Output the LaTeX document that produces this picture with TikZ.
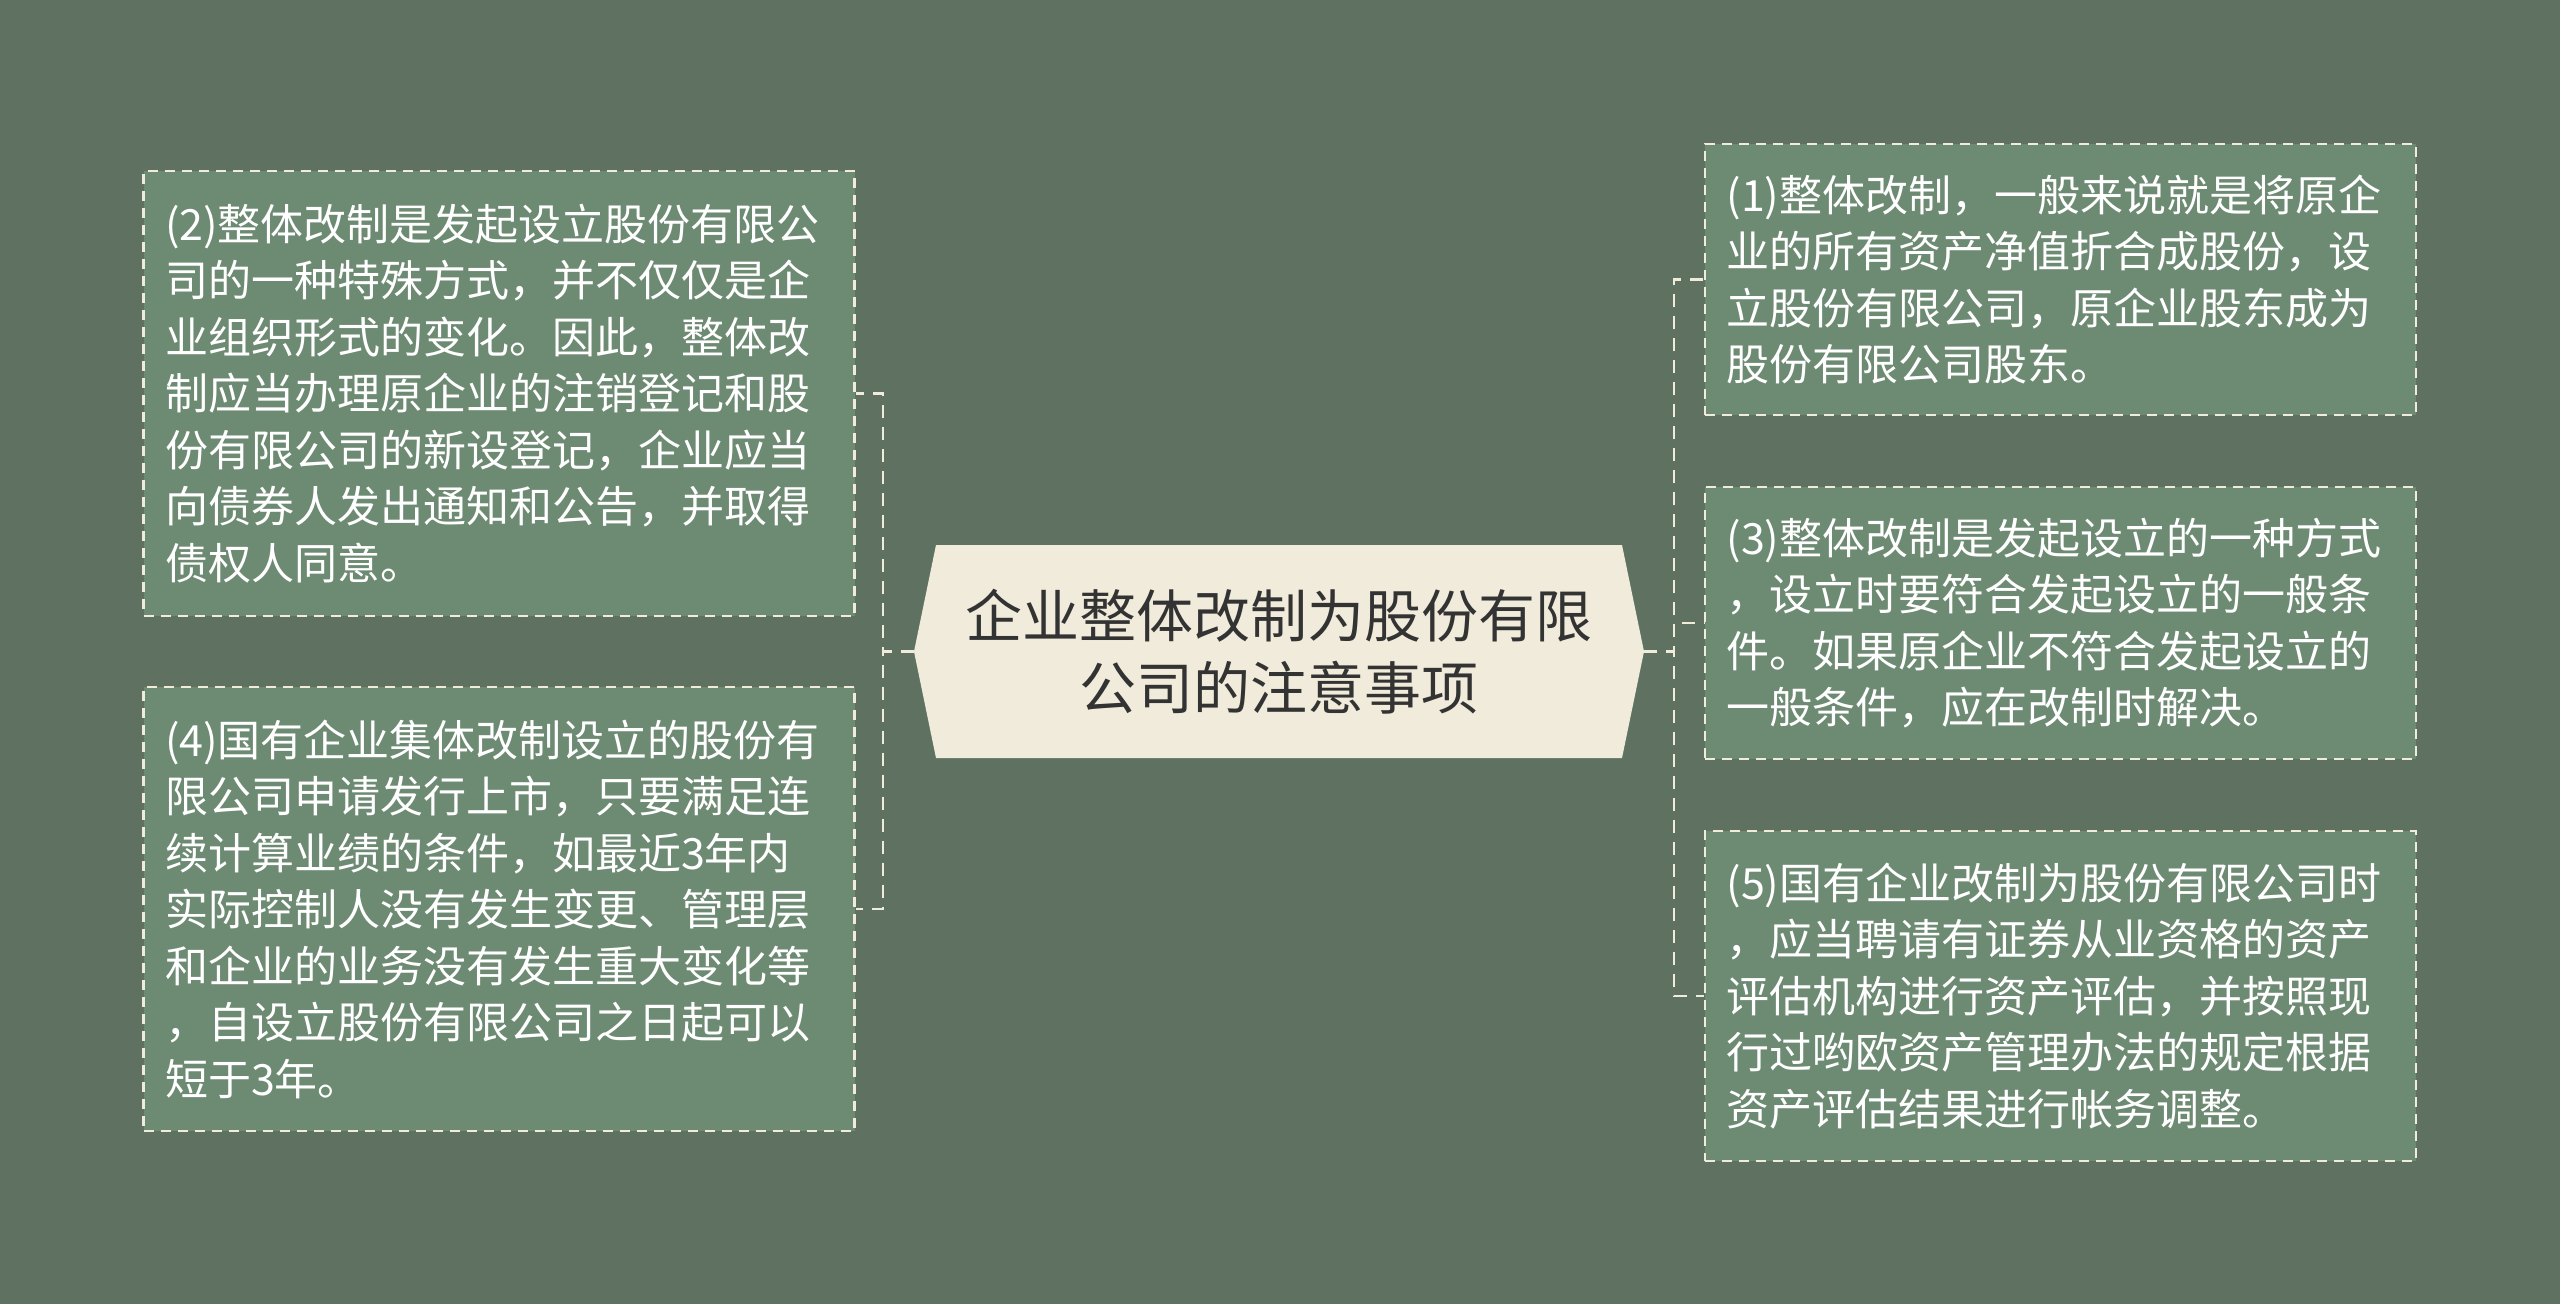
\documentclass[tikz,border=0pt]{standalone}
\usepackage{fontspec}
\setmainfont{Noto Sans CJK SC}
\definecolor{bgcol}{HTML}{5F7262}
\definecolor{boxcol}{HTML}{6D8A73}
\definecolor{creamcol}{HTML}{F0EBDA}
\definecolor{darktext}{HTML}{333333}
\tikzset{
  leafbox/.style={draw=creamcol, line width=2.2pt, dash pattern=on 10pt off 7pt,
    fill=boxcol, text=white, align=left, text width=668pt, inner sep=0pt,
    minimum width=711pt, font=\fontsize{43pt}{56.5pt}\selectfont},
  conn/.style={draw=creamcol, line width=2.8pt, dash pattern=on 13pt off 9pt},
  rootbox/.style={inner sep=0pt, minimum width=730pt, minimum height=213pt,
    text=darktext, align=center, font=\fontsize{57pt}{72pt}\selectfont}
}
\begin{document}
\begin{tikzpicture}[x=1pt,y=-1pt]
\useasboundingbox (0,0) rectangle (2560,1304);
\fill[bgcol] (0,0) rectangle (2560,1304);
% central hexagon
\fill[creamcol] (936,545) -- (1622,545) -- (1644,651.5) -- (1622,758) -- (936,758) -- (914,651.5) -- cycle;
\node[rootbox] (root) at (1279,651.5) {企业整体改制为股份有限\\公司的注意事项};
% left boxes
\node[leafbox, minimum height=445pt] (b2) at (499,393.5) {(2)整体改制是发起设立股份有限公\\司的一种特殊方式，并不仅仅是企\\业组织形式的变化。因此，整体改\\制应当办理原企业的注销登记和股\\份有限公司的新设登记，企业应当\\向债券人发出通知和公告，并取得\\债权人同意。};
\node[leafbox, minimum height=444pt] (b4) at (499,909) {(4)国有企业集体改制设立的股份有\\限公司申请发行上市，只要满足连\\续计算业绩的条件，如最近3年内\\实际控制人没有发生变更、管理层\\和企业的业务没有发生重大变化等\\，自设立股份有限公司之日起可以\\短于3年。};
% right boxes
\node[leafbox, minimum height=271pt] (b1) at (2060.5,279.5) {(1)整体改制，一般来说就是将原企\\业的所有资产净值折合成股份，设\\立股份有限公司，原企业股东成为\\股份有限公司股东。};
\node[leafbox, minimum height=272pt] (b3) at (2060.5,623) {(3)整体改制是发起设立的一种方式\\，设立时要符合发起设立的一般条\\件。如果原企业不符合发起设立的\\一般条件，应在改制时解决。};
\node[leafbox, minimum height=330pt] (b5) at (2060.5,996) {(5)国有企业改制为股份有限公司时\\，应当聘请有证券从业资格的资产\\评估机构进行资产评估，并按照现\\行过哟欧资产管理办法的规定根据\\资产评估结果进行帐务调整。};
% connectors
\coordinate (lj) at (883,651.5);
\coordinate (rj) at (1674,651.5);
\draw[conn] (root.west) -- (lj) |- (b2.east);
\draw[conn] (root.west) -- (lj) |- (b4.east);
\draw[conn] (root.east) -- (rj) |- (b1.west);
\draw[conn] (root.east) -- (rj) |- (b3.west);
\draw[conn] (root.east) -- (rj) |- (b5.west);
\end{tikzpicture}
\end{document}
